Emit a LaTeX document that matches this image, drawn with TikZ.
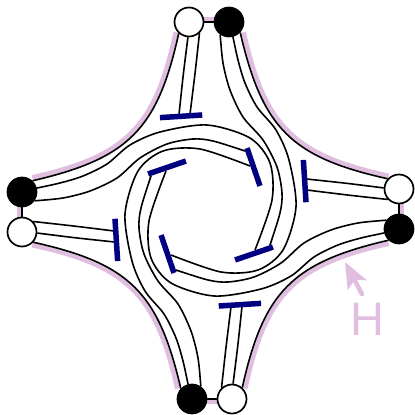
\documentclass[tikz,border=0pt]{standalone}
\usepackage{fontspec}
\setmainfont{Liberation Sans}
\usetikzlibrary{
  arrows.meta,
  backgrounds
}
\definecolor{bandcolor}{RGB}{224, 190, 224}
\definecolor{barcolor}{RGB}{0, 0, 128}
\tikzset{
blacknode/.style={
  circle,
  draw=black,
  fill=black,
  line width=1.7pt,
  inner sep=0pt,
  minimum size=29pt
},
whitenode/.style={
  blacknode,
  fill=white
},
barnode/.style={
  fill=barcolor,
  inner sep=0pt,
  minimum height=5.5pt
},
strand/.style={
  draw=black,
  line width=1.6pt
},
band/.style={
  draw=bandcolor,
  line width=5pt
},
pointer/.style={
  -{Stealth[length=26pt,width=21pt,inset=6pt]},
  line width=4.5pt,
  line cap=round,
  draw=bandcolor
}
}
\begin{document}
\begin{tikzpicture}[x=1pt,y=1pt]
  \useasboundingbox (-210.5,-204.5) rectangle (204.5,210.5);
  % one arm, turned four times
  \foreach \i/\a in {t/0,l/90,b/180,r/270}{
    \begin{scope}[rotate=\a,transform shape]
      \node[whitenode] (w\i) at (-21.5,188.5) {};
      \node[blacknode] (k\i) at (18.5,188.5) {};
      \node[barnode,minimum width=42.4pt,rotate=3.6] (o\i) at (-29.4,94.2) {};
      \node[barnode,minimum width=40pt,rotate=18.9] (n\i) at (43.5,-43) {};
      \coordinate (pu\i) at (-31.7,94);
      \coordinate (pv\i) at (-20.7,94.8);
      \coordinate (pa\i) at (59.5,-34.5);
      \coordinate (pb\i) at (-39.5,-44.5);
    \end{scope}
  }
  \begin{scope}[on background layer]
    \foreach \i/\a in {t/0,l/90,b/180,r/270}{
      \begin{scope}[rotate=\a]
        \draw[band] (-34.5,178.2) .. controls (-55,83.5) and (-83.5,54) .. (-178.2,33);
        \draw[band] (-8,190.5) -- (5,190.5);
      \end{scope}
    }
    \foreach \i/\a/\j in {t/0/l,l/90/b,b/180/r,r/270/t}{
      \begin{scope}[rotate=\a,transform shape]
        \draw[strand] (w\i) -- (k\i);
        \draw[strand] (w\i.-132) .. controls (-53,81.5) and (-81.5,52) .. (k\j.-43);
        % lines into the outer bar
        \draw[strand] plot[smooth] coordinates {(w\i.-94) (-27.3,135) (pu\i)};
        \draw[strand] plot[smooth] coordinates {(w\i.-47) (-15.5,137) (pv\i)};
        % lines into the inner bars
        \draw[strand] plot[smooth] coordinates {(k\i.-125) (12.5,147.5) (19.5,120.5) (32.5,93.5)
          (52.5,70.5) (66.5,43.5) (71.5,17.5) (69.5,-2.5) (pa\i)};
        \draw[strand] plot[smooth] coordinates {(k\i.-75) (27.5,150.5) (34.5,127.5) (46.5,103.5)
          (65.5,80.5) (78.5,50.5) (85.5,3.5) (72.5,-39.5) (47.5,-59.5) (10.5,-61.5) (pb\i)};
      \end{scope}
    }
  \end{scope}
  \node[text=bandcolor,font=\fontsize{47}{47}\selectfont,inner sep=0pt] (hlabel) at (156.5,-109) {H};
  \coordinate (hstart) at ([shift={(-5,9)}]hlabel.north);
  \coordinate (htip) at (134.5,-51.5);
  \draw[pointer] (hstart) -- (htip);
\end{tikzpicture}
\end{document}
